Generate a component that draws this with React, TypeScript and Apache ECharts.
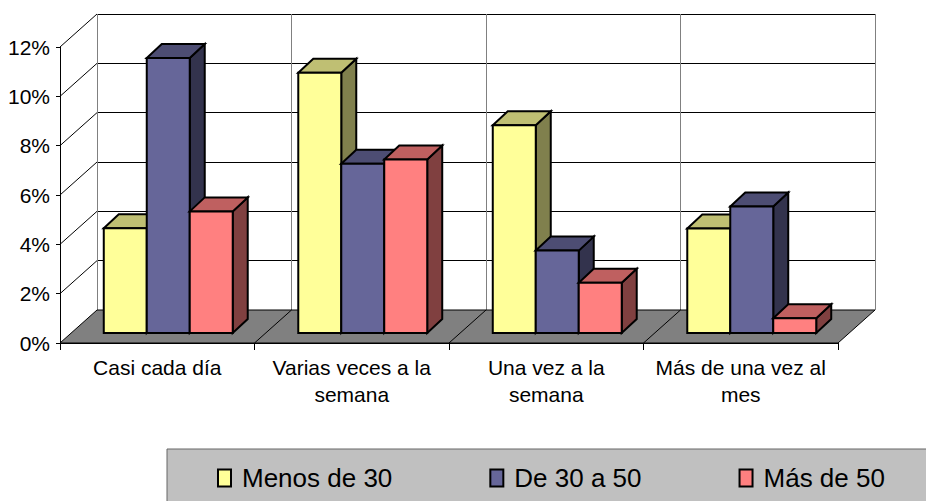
import React, { useEffect, useRef } from "react";
import * as echarts from "echarts";

// ---- data ----
const CATEGORIES = [
  "Casi cada día",
  "Varias veces a la\nsemana",
  "Una vez a la\nsemana",
  "Más de una vez al\nmes",
];
const SERIES_NAMES = ["Menos de 30", "De 30 a 50", "Más de 50"];
const MENOS_30 = [4.25, 10.55, 8.42, 4.24];
const DE_30_50 = [11.15, 6.86, 3.34, 5.13];
const MAS_50 = [4.93, 7.03, 2.04, 0.6];
const Y_MIN = 0;
const Y_MAX = 12;
const Y_STEP = 2;

// ---- styles / layout ----
const FRONT_COLORS = ["#FFFF99", "#666699", "#FF8080"];
const TOP_COLORS = ["#BFBF73", "#4D4D73", "#BF6060"];
const SIDE_COLORS = ["#80804D", "#33334D", "#804040"];
const FONT = "Liberation Sans, Arial, sans-serif";

const FRONT_GRID = { left: 60, top: 47, width: 778, height: 296 };
const DEPTH_X = 37;
const DEPTH_Y = -33;
const FACE_DX = 11;
const FACE_DY = -10;
const BAR_DX = 15;
const BAR_DY = -14;
const BAR_FRAC = 0.221;

export default function App() {
  const ref = useRef<HTMLDivElement>(null);

  useEffect(() => {
    if (!ref.current) return;
    const chart = echarts.init(ref.current, undefined, { renderer: "svg" });

    const seriesValues = [MENOS_30, DE_30_50, MAS_50];
    const yTicks: number[] = [];
    for (let v = Y_MIN + Y_STEP; v <= Y_MAX + 1e-9; v += Y_STEP) yTicks.push(v);

    const barSeries = seriesValues.map((vals, k) => ({
      type: "custom",
      name: SERIES_NAMES[k],
      xAxisIndex: 0,
      yAxisIndex: 0,
      itemStyle: { color: FRONT_COLORS[k], borderColor: "#000", borderWidth: 2 },
      data: vals.map((v, i) => [i, v]),
      renderItem: (params: any, api: any) => {
        const cat = api.value(0);
        const v = api.value(1);
        const base = api.coord([cat, 0]);
        const top = api.coord([cat, v]);
        const band = api.size([1, 0])[0];
        const w = band * BAR_FRAC;
        const x0 = base[0] - 1.5 * w + k * w + FACE_DX;
        const yb = base[1] + FACE_DY;
        const yt = top[1] + FACE_DY;
        const stroke = { stroke: "#000", lineWidth: 2, lineJoin: "miter" };
        return {
          type: "group",
          children: [
            {
              type: "polygon",
              shape: {
                points: [
                  [x0 + w, yt],
                  [x0 + w + BAR_DX, yt + BAR_DY],
                  [x0 + w + BAR_DX, yb + BAR_DY],
                  [x0 + w, yb],
                ],
              },
              style: { fill: SIDE_COLORS[k], ...stroke },
            },
            {
              type: "polygon",
              shape: {
                points: [
                  [x0, yt],
                  [x0 + w, yt],
                  [x0 + w + BAR_DX, yt + BAR_DY],
                  [x0 + BAR_DX, yt + BAR_DY],
                ],
              },
              style: { fill: TOP_COLORS[k], ...stroke },
            },
            {
              type: "rect",
              shape: { x: x0, y: yt, width: w, height: yb - yt },
              style: { fill: FRONT_COLORS[k], ...stroke },
            },
          ],
        };
      },
    }));

    const floorSeries = {
      type: "custom",
      name: "floor",
      xAxisIndex: 0,
      yAxisIndex: 0,
      silent: true,
      data: [[0, 0]],
      renderItem: (params: any, api: any) => {
        const cs = params.coordSys;
        const x0 = cs.x;
        const x1 = cs.x + cs.width;
        const yF = cs.y + cs.height;
        const children: any[] = [
          {
            type: "polygon",
            shape: {
              points: [
                [x0, yF],
                [x1, yF],
                [x1 + DEPTH_X, yF + DEPTH_Y],
                [x0 + DEPTH_X, yF + DEPTH_Y],
              ],
            },
            style: { fill: "#808080", stroke: "#000", lineWidth: 1 },
          },
        ];
        const n = CATEGORIES.length;
        for (let i = 1; i < n; i++) {
          const x = x0 + (i * cs.width) / n;
          children.push({
            type: "line",
            shape: { x1: x, y1: yF, x2: x + DEPTH_X, y2: yF + DEPTH_Y },
            style: { stroke: "#000", lineWidth: 1 },
          });
        }
        yTicks.forEach((v) => {
          const y = api.coord([0, v])[1];
          children.push({
            type: "line",
            shape: { x1: x0, y1: y, x2: x0 + DEPTH_X, y2: y + DEPTH_Y },
            style: { stroke: "#000", lineWidth: 1 },
          });
        });
        return { type: "group", children };
      },
    };

    const option: any = {
      animation: false,
      backgroundColor: "#fff",
      textStyle: { fontFamily: FONT },
      grid: [
        {
          left: FRONT_GRID.left,
          top: FRONT_GRID.top,
          width: FRONT_GRID.width,
          height: FRONT_GRID.height,
          outerBoundsMode: "none",
        },
        {
          left: FRONT_GRID.left + DEPTH_X,
          top: FRONT_GRID.top + DEPTH_Y,
          width: FRONT_GRID.width,
          height: FRONT_GRID.height,
          outerBoundsMode: "none",
        },
      ],
      xAxis: [
        {
          type: "category",
          gridIndex: 0,
          data: CATEGORIES,
          axisLine: { show: true, lineStyle: { color: "#000", width: 1 } },
          axisTick: { show: true, length: 7, interval: 0, lineStyle: { color: "#000" } },
          axisLabel: {
            interval: 0,
            margin: 11,
            color: "#000",
            fontSize: 21,
            lineHeight: 27,
            fontFamily: FONT,
          },
          splitLine: { show: false },
        },
        {
          type: "category",
          gridIndex: 1,
          data: CATEGORIES,
          axisLine: { show: false },
          axisTick: { show: false },
          axisLabel: { show: false },
          splitLine: { show: true, interval: 0, lineStyle: { color: "#808080", width: 1 } },
        },
      ],
      yAxis: [
        {
          type: "value",
          gridIndex: 0,
          min: Y_MIN,
          max: Y_MAX,
          interval: Y_STEP,
          axisLine: { show: true, lineStyle: { color: "#000", width: 1 } },
          axisTick: { show: true, length: 4, lineStyle: { color: "#000" } },
          axisLabel: {
            formatter: "{value}%",
            margin: 10,
            color: "#000",
            fontSize: 21,
            fontFamily: FONT,
          },
          splitLine: { show: false },
        },
        {
          type: "value",
          gridIndex: 1,
          min: Y_MIN,
          max: Y_MAX,
          interval: Y_STEP,
          axisLine: { show: false },
          axisTick: { show: false },
          axisLabel: { show: false },
          splitLine: { show: true, lineStyle: { color: "#000", width: 1 } },
        },
      ],
      legend: {
        left: 217,
        top: 465,
        orient: "horizontal",
        itemWidth: 13,
        itemHeight: 17,
        itemGap: 97,
        padding: 0,
        selectedMode: false,
        textStyle: {
          fontSize: 26,
          lineHeight: 26,
          color: "#000",
          fontFamily: FONT,
          padding: [0, 0, 0, 6],
        },
        data: SERIES_NAMES.map((name, k) => ({
          name,
          icon: "rect",
          itemStyle: { color: FRONT_COLORS[k], borderColor: "#000", borderWidth: 2 },
        })),
      },
      graphic: [
        {
          type: "rect",
          z: 0,
          silent: true,
          shape: { x: 167, y: 449, width: 820, height: 100 },
          style: { fill: "#C0C0C0", stroke: "#666666", lineWidth: 1 },
        },
      ],
      series: [floorSeries, ...barSeries],
    };

    chart.setOption(option);
    return () => chart.dispose();
  }, []);

  return (
    <div
      ref={ref}
      style={{ position: "fixed", left: 0, top: 0, width: 926, height: 501 }}
    />
  );
}
